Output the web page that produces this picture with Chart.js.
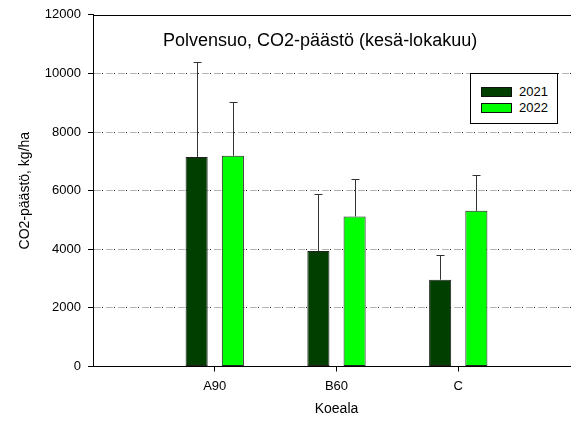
<!DOCTYPE html>
<html>
<head>
<meta charset="utf-8">
<script src="https://cdn.jsdelivr.net/npm/chart.js@4"></script>
<style>
  html, body { margin:0; padding:0; background:#fff; overflow:hidden; }
  #wrap { position:relative; width:571px; height:422px; overflow:hidden; }
  #title { position:absolute; left:163px; top:30px; font:18px "Liberation Sans", Arial, sans-serif; color:#000; white-space:nowrap; }
  #legend { position:absolute; left:470px; top:73px; width:86px; height:49px; border:1px solid #000; background:#fff;
            font:13px "Liberation Sans", Arial, sans-serif; }
  .row { position:absolute; left:10px; width:70px; height:12px; }
  .sw { position:absolute; left:0; top:0; width:29px; height:8px; border:1px solid #111; }
  .lab { position:absolute; left:38px; top:-3px; white-space:nowrap; }
</style>
</head>
<body>
<div id="wrap">
  <canvas id="chart" width="600" height="422"></canvas>
  <div id="title"></div>
  <div id="legend"></div>
</div>
<script>
// ---------- data ----------
const chartTitle = "Polvensuo, CO2-päästö (kesä-lokakuu)";
const categories = ["A90", "B60", "C"];
const years = ["2021", "2022"];
const co2_2021 = [7150, 3940, 2960];
const co2_2022 = [7190, 5120, 5310];
// upper error bar length (kg/ha)
const err2021 = [3230, 1930, 830];
const err2022 = [1840, 1280, 1240];
const yTicks = [0, 2000, 4000, 6000, 8000, 10000, 12000];

const colors = ["#003f00", "#00ff00"];
const FONT = '"Liberation Sans", Arial, sans-serif';

// empty slot on each side so the categories sit at 1,2,3
const labels = ["", ...categories, ""];
const pad = arr => [null, ...arr, null];

// title + legend
document.getElementById("title").textContent = chartTitle;
const leg = document.getElementById("legend");
years.forEach((y, i) => {
    const r = document.createElement("div");
    r.className = "row";
    r.style.top = (13 + i * 16) + "px";
    r.innerHTML = '<div class="sw" style="background:' + colors[i] + '"></div><div class="lab">' + y + '</div>';
    leg.appendChild(r);
});

// error bars + top frame line
const errorBars = {
    id: "errorBars",
    afterDatasetsDraw(chart) {
        const ctx = chart.ctx;
        const y = chart.scales.y;
        ctx.save();
        ctx.strokeStyle = "#333";
        ctx.lineWidth = 1;
        chart.data.datasets.forEach((ds, di) => {
            const meta = chart.getDatasetMeta(di);
            meta.data.forEach((bar, i) => {
                const v = ds.data[i];
                if (v == null) return;
                const top = Math.round(y.getPixelForValue(v + ds.errors[i])) + 0.5;
                const x = Math.round(bar.x) + 0.5;
                ctx.beginPath();
                ctx.moveTo(x, bar.y);
                ctx.lineTo(x, top);
                ctx.moveTo(x - 4, top);
                ctx.lineTo(x + 4, top);
                ctx.stroke();
            });
        });
        const a = chart.chartArea;
        ctx.strokeStyle = "#000";
        ctx.beginPath();
        ctx.moveTo(a.left, Math.round(a.top) + 0.5);
        ctx.lineTo(a.right, Math.round(a.top) + 0.5);
        ctx.stroke();
        ctx.restore();
    }
};

new Chart(document.getElementById("chart"), {
    type: "bar",
    data: {
        labels: labels,
        datasets: [
            { label: years[0], data: pad(co2_2021), errors: pad(err2021), backgroundColor: colors[0] },
            { label: years[1], data: pad(co2_2022), errors: pad(err2022), backgroundColor: colors[1] }
        ]
    },
    options: {
        responsive: false,
        animation: false,
        devicePixelRatio: 1,
        categoryPercentage: 0.595,
        barPercentage: 0.61,
        datasets: { bar: { borderColor: "#222", borderWidth: 1, borderSkipped: false } },
        layout: { padding: { left: 0, right: 20, top: 14.5, bottom: 0 } },
        plugins: { legend: { display: false }, tooltip: { enabled: false } },
        scales: {
            x: {
                offset: false,
                grid: {
                    offset: false,
                    drawOnChartArea: false,
                    tickLength: 5,
                    tickColor: c => (c.index === 0 || c.index === labels.length - 1) ? "rgba(0,0,0,0)" : "#000"
                },
                border: { color: "#000", width: 1 },
                ticks: { color: "#000", font: { family: FONT, size: 13 }, padding: 7, maxRotation: 0, autoSkip: false },
                title: { display: true, text: "Koeala", color: "#000", font: { family: FONT, size: 14 } },
                afterFit: s => { s.height = 55.5; }
            },
            y: {
                min: 0, max: 12000,
                afterBuildTicks: s => { s.ticks = yTicks.map(v => ({ value: v })); },
                grid: {
                    color: c => (c.tick.value === 0 || c.tick.value === 12000) ? "rgba(0,0,0,0)" : "#b4b4b4",
                    tickColor: "#000",
                    tickLength: 5,
                    tickBorderDash: []
                },
                border: { color: "#000", width: 1, dash: [7, 5] },
                ticks: { color: "#000", font: { family: FONT, size: 13 }, padding: 7, callback: v => String(v) },
                title: { display: true, text: "CO2-päästö, kg/ha", color: "#000", font: { family: FONT, size: 14 }, padding: { top: 17, bottom: 4 } },
                afterFit: s => { s.width = 93; }
            },
            y2: {
                position: "left",
                min: 0, max: 12000,
                afterBuildTicks: s => { s.ticks = yTicks.map(v => ({ value: v })); },
                grid: {
                    color: c => (c.tick.value === 0 || c.tick.value === 12000) ? "rgba(0,0,0,0)" : "#222",
                    drawTicks: false
                },
                border: { display: false, dash: [1, 11], dashOffset: -9 },
                ticks: { display: false },
                afterFit: s => { s.width = 0; }
            }
        }
    },
    plugins: [errorBars]
});
</script>
</body>
</html>
